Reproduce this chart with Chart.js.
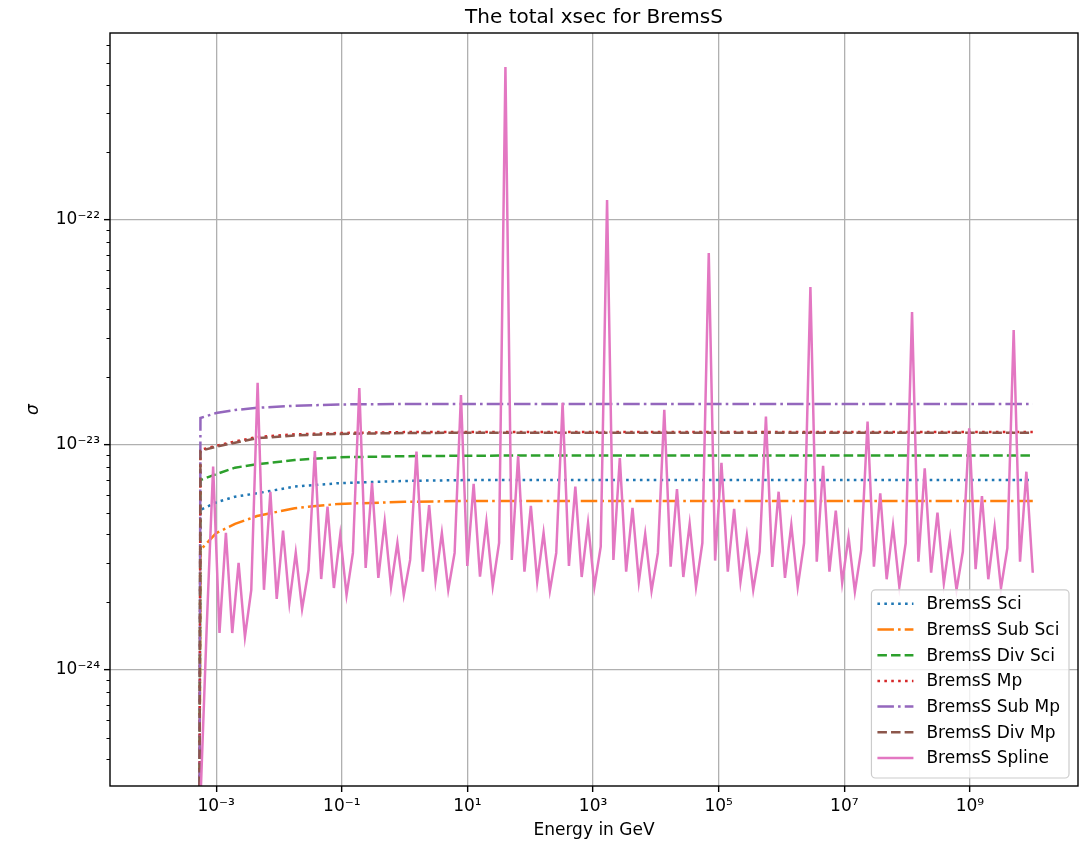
<!DOCTYPE html>
<html>
<head>
<meta charset="utf-8">
<title>The total xsec for BremsS</title>
<script src="https://cdn.jsdelivr.net/npm/chart.js"></script>
<style>
  html, body { margin: 0; padding: 0; background: #fff; }
  #chart { display: block; }
</style>
</head>
<body>
<canvas id="chart" width="1087" height="847"></canvas>
<script>
// energies are kept as log10(E / GeV), cross sections as log10(sigma)
const energyExp = [
  -3.25, -3.149, -3.048, -2.947, -2.845, -2.744, -2.643, -2.542, -2.441, -2.34,
  -2.239, -2.137, -2.036, -1.935, -1.834, -1.733, -1.632, -1.53, -1.429, -1.328,
  -1.227, -1.126, -1.025, -0.924, -0.823, -0.721, -0.62, -0.519, -0.418, -0.317,
  -0.216, -0.115, -0.013, 0.088, 0.189, 0.29, 0.391, 0.492, 0.593, 0.695,
  0.796, 0.897, 0.998, 1.099, 1.2, 1.302, 1.403, 1.504, 1.605, 1.706,
  1.807, 1.908, 2.01, 2.111, 2.212, 2.313, 2.414, 2.515, 2.616, 2.718,
  2.819, 2.92, 3.021, 3.122, 3.223, 3.324, 3.426, 3.527, 3.628, 3.729,
  3.83, 3.931, 4.032, 4.134, 4.235, 4.336, 4.437, 4.538, 4.639, 4.74,
  4.842, 4.943, 5.044, 5.145, 5.246, 5.347, 5.448, 5.55, 5.651, 5.752,
  5.853, 5.954, 6.055, 6.156, 6.258, 6.359, 6.46, 6.561, 6.662, 6.763,
  6.864, 6.966, 7.067, 7.168, 7.269, 7.37, 7.471, 7.572, 7.674, 7.775,
  7.876, 7.977, 8.078, 8.179, 8.28, 8.382, 8.483, 8.584, 8.685, 8.786,
  8.887, 8.988, 9.09, 9.191, 9.292, 9.393, 9.494, 9.595, 9.696, 9.797,
  9.898, 10.0
];

const splineExp = [
  -24.578, -23.8, -23.096, -23.836, -23.391, -23.836, -23.524, -23.853, -23.644, -22.724,
  -23.644, -23.208, -23.684, -23.381, -23.702, -23.479, -23.729, -23.556, -23.027, -23.596,
  -23.274, -23.636, -23.4, -23.667, -23.48, -22.747, -23.547, -23.169, -23.591, -23.341,
  -23.631, -23.436, -23.667, -23.511, -23.03, -23.563, -23.267, -23.603, -23.391, -23.644,
  -23.48, -22.778, -23.538, -23.173, -23.585, -23.341, -23.627, -23.436, -21.32, -23.511,
  -23.049, -23.563, -23.271, -23.608, -23.391, -23.648, -23.48, -22.813, -23.538, -23.185,
  -23.587, -23.347, -23.63, -23.452, -21.911, -23.511, -23.058, -23.563, -23.28, -23.608,
  -23.396, -23.648, -23.48, -22.844, -23.541, -23.196, -23.587, -23.351, -23.631, -23.436,
  -22.147, -23.514, -23.079, -23.563, -23.284, -23.608, -23.403, -23.644, -23.474, -22.874,
  -23.542, -23.208, -23.591, -23.356, -23.631, -23.436, -22.298, -23.519, -23.093, -23.563,
  -23.292, -23.612, -23.408, -23.652, -23.467, -22.896, -23.541, -23.215, -23.597, -23.36,
  -23.63, -23.436, -22.409, -23.519, -23.104, -23.568, -23.301, -23.615, -23.412, -23.644,
  -23.474, -22.926, -23.552, -23.227, -23.597, -23.366, -23.637, -23.459, -22.489, -23.519,
  -23.119, -23.568
];

// the smooth models are sampled more coarsely
const smoothExp = [-3.27, -3.25, -3.0, -2.7, -2.35, -1.75, -1.05, 0, 1, 2, 4, 6, 8, 10];
const sciExp    = [-25, -23.289, -23.255, -23.23, -23.215, -23.185, -23.17, -23.16, -23.156, -23.156, -23.156, -23.156, -23.156, -23.156];
const subSciExp = [-25, -23.467, -23.392, -23.351, -23.316, -23.281, -23.262, -23.253, -23.249, -23.249, -23.249, -23.249, -23.249, -23.249];
const divSciExp = [-25, -23.156, -23.13, -23.101, -23.086, -23.067, -23.055, -23.05, -23.048, -23.047, -23.047, -23.047, -23.047, -23.047];
const mpExp     = [-25, -23.022, -23.004, -22.985, -22.965, -22.953, -22.947, -22.943, -22.942, -22.942, -22.942, -22.942, -22.942, -22.942];
const subMpExp  = [-25, -22.88, -22.858, -22.845, -22.835, -22.826, -22.82, -22.818, -22.818, -22.818, -22.818, -22.818, -22.818, -22.818];
const divMpExp  = [-25, -23.026, -23.008, -22.99, -22.97, -22.958, -22.951, -22.947, -22.946, -22.946, -22.946, -22.946, -22.946, -22.946];

const xTickExp = [-3, -1, 1, 3, 5, 7, 9];
const xTickLabels = ['10⁻³', '10⁻¹', '10¹', '10³', '10⁵', '10⁷', '10⁹'];
const yTickExp = [-24, -23, -22];
const yTickLabels = ['10⁻²⁴', '10⁻²³', '10⁻²²'];

const FONT = '"DejaVu Sans", "Liberation Sans", sans-serif';

function toPoints(xs, ys) {
    return xs.map((e, i) => ({ x: Math.pow(10, e), y: Math.pow(10, ys[i]) }));
}

const series = [
    { label: 'BremsS Sci',     xs: smoothExp, ys: sciExp,    color: '#1f77b4', dash: [2.6, 4.3] },
    { label: 'BremsS Sub Sci', xs: smoothExp, ys: subSciExp, color: '#ff7f0e', dash: [16.5, 4.1, 2.6, 4.1] },
    { label: 'BremsS Div Sci', xs: smoothExp, ys: divSciExp, color: '#2ca02c', dash: [9.5, 4.1] },
    { label: 'BremsS Mp',      xs: smoothExp, ys: mpExp,     color: '#d62728', dash: [2.6, 4.3] },
    { label: 'BremsS Sub Mp',  xs: smoothExp, ys: subMpExp,  color: '#9467bd', dash: [16.5, 4.1, 2.6, 4.1] },
    { label: 'BremsS Div Mp',  xs: smoothExp, ys: divMpExp,  color: '#8c564b', dash: [9.5, 4.1] },
    { label: 'BremsS Spline',  xs: energyExp, ys: splineExp, color: '#e377c2', dash: [] }
];

// matplotlib style frame, minor ticks, title and legend
const mplDecor = {
    id: 'mplDecor',
    afterDatasetsDraw(chart) {
        const { ctx, chartArea: a } = chart;
        ctx.save();
        ctx.strokeStyle = '#000';
        ctx.lineWidth = 1.4;
        ctx.strokeRect(a.left, a.top, a.right - a.left, a.bottom - a.top);
        ctx.restore();
    },
    afterDraw(chart) {
        const { ctx, chartArea: a } = chart;
        const yScale = chart.scales.y;
        ctx.save();

        // minor ticks on the y axis
        ctx.strokeStyle = '#000';
        ctx.lineWidth = 1.0;
        for (let n = -25; n <= -22; n++) {
            for (let k = 2; k <= 9; k++) {
                const v = k * Math.pow(10, n);
                if (v < yScale.min || v > yScale.max) continue;
                const py = Math.round(yScale.getPixelForValue(v)) + 0.5;
                ctx.beginPath();
                ctx.moveTo(a.left, py);
                ctx.lineTo(a.left - 3.5, py);
                ctx.stroke();
            }
        }

        // title
        ctx.fillStyle = '#000';
        ctx.font = '20px ' + FONT;
        ctx.textAlign = 'center';
        ctx.textBaseline = 'alphabetic';
        ctx.fillText('The total xsec for BremsS', (a.left + a.right) / 2, a.top - 10);

        // legend, lower right
        const items = chart.data.datasets;
        ctx.font = '17px ' + FONT;
        const textW = Math.max(...items.map(d => ctx.measureText(d.label).width));
        const rowH = 25.7;
        const w = 55 + textW + 9;
        const h = 34 + (items.length - 1) * rowH;
        const x = a.right - 9 - w;
        const y = a.bottom - 8 - h;
        ctx.beginPath();
        ctx.roundRect(x, y, w, h, 4);
        ctx.fillStyle = 'rgba(255,255,255,0.8)';
        ctx.fill();
        ctx.strokeStyle = '#cccccc';
        ctx.lineWidth = 1.2;
        ctx.stroke();

        ctx.textAlign = 'left';
        ctx.textBaseline = 'middle';
        items.forEach((d, i) => {
            const cy = y + 14 + i * rowH;
            ctx.beginPath();
            ctx.setLineDash(d.borderDash || []);
            ctx.strokeStyle = d.borderColor;
            ctx.lineWidth = d.borderWidth;
            ctx.moveTo(x + 6, cy);
            ctx.lineTo(x + 42, cy);
            ctx.stroke();
            ctx.setLineDash([]);
            ctx.fillStyle = '#000';
            ctx.fillText(d.label, x + 55, cy + 1);
        });
        ctx.restore();
    }
};

const ctx = document.getElementById('chart');
new Chart(ctx, {
    type: 'line',
    data: {
        datasets: series.map((s, i) => ({
            label: s.label,
            data: toPoints(s.xs, s.ys),
            borderColor: s.color,
            backgroundColor: s.color,
            borderWidth: 2.5,
            borderDash: s.dash,
            pointRadius: 0,
            tension: 0,
            fill: false,
            order: series.length - 1 - i
        }))
    },
    options: {
        responsive: false,
        animation: false,
        events: [],
        layout: { padding: { top: 33, right: 9, bottom: 0, left: 0 } },
        plugins: {
            legend: { display: false },
            title: { display: false },
            tooltip: { enabled: false }
        },
        scales: {
            x: {
                type: 'logarithmic',
                min: Math.pow(10, -4.69),
                max: Math.pow(10, 10.72),
                bounds: 'data',
                afterBuildTicks: (scale) => {
                    scale.ticks = xTickExp.map(e => ({ value: Math.pow(10, e) }));
                },
                afterFit: (scale) => { scale.height = 61; },
                ticks: {
                    autoSkip: false,
                    maxRotation: 0,
                    padding: 4,
                    color: '#000',
                    font: { family: FONT, size: 17 },
                    callback: (value, index) => xTickLabels[index]
                },
                grid: { color: '#b0b0b0', lineWidth: 1.3, tickLength: 6, tickColor: '#000', tickWidth: 1.4 },
                border: { display: false },
                title: {
                    display: true,
                    text: 'Energy in GeV',
                    color: '#000',
                    font: { family: FONT, size: 17 },
                    padding: { top: 0, bottom: 6 }
                }
            },
            y: {
                type: 'logarithmic',
                min: Math.pow(10, -24.516),
                max: Math.pow(10, -21.169),
                bounds: 'data',
                afterBuildTicks: (scale) => {
                    scale.ticks = yTickExp.map(e => ({ value: Math.pow(10, e) }));
                },
                afterFit: (scale) => { scale.width = 110; },
                ticks: {
                    autoSkip: false,
                    padding: 4,
                    color: '#000',
                    font: { family: FONT, size: 17 },
                    callback: (value, index) => yTickLabels[index]
                },
                grid: { color: '#b0b0b0', lineWidth: 1.3, tickLength: 6, tickColor: '#000', tickWidth: 1.4 },
                border: { display: false },
                title: {
                    display: true,
                    text: 'σ',
                    color: '#000',
                    font: { family: FONT, size: 17, style: 'italic' },
                    padding: { top: 23, bottom: 0 }
                }
            }
        }
    },
    plugins: [mplDecor]
});
</script>
</body>
</html>
